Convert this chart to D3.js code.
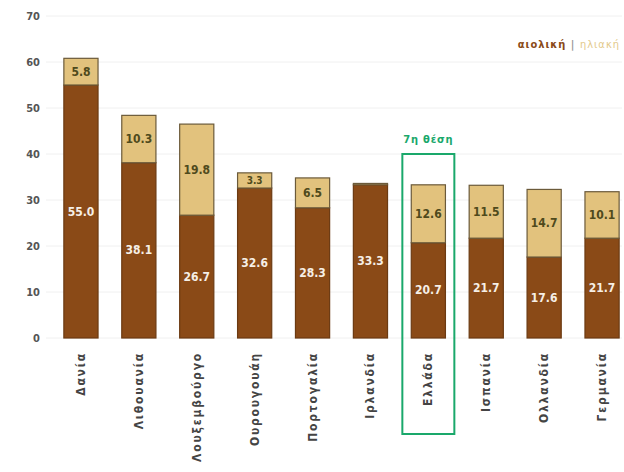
<!DOCTYPE html>
<html><head><meta charset="utf-8">
<script src="https://cdn.jsdelivr.net/npm/d3@7"></script>
<style>body{margin:0;background:#fff;}svg{display:block;}</style>
</head><body>
<svg id="c" width="624" height="472"></svg>
<script>
const categories = ["Δανία","Λιθουανία","Λουξεμβούργο","Ουρουγουάη","Πορτογαλία","Ιρλανδία","Ελλάδα","Ισπανία","Ολλανδία","Γερμανία"];
const wind  = [55.0, 38.1, 26.7, 32.6, 28.3, 33.3, 20.7, 21.7, 17.6, 21.7];
const solar = [5.8, 10.3, 19.8, 3.3, 6.5, 0.3, 12.6, 11.5, 14.7, 10.1];
const yTicks = [0,10,20,30,40,50,60,70];
const seriesNames = ["αιολική","ηλιακή"];
const highlight = "Ελλάδα";
const highlightLabel = "7η θέση";

const svg = d3.select("#c");
const font = "'DejaVu Sans Condensed','DejaVu Sans',Arial,sans-serif";
const x = d3.scaleBand().domain(categories).range([52, 631]).paddingInner(0.41).paddingOuter(0.205);
const y = d3.scaleLinear().domain([0,70]).range([338, 16]);
const cWind = "#8a4a17", cSolar = "#e2c27d";

// gridlines
svg.append("g").selectAll("line").data(yTicks).join("line")
  .attr("x1", 46).attr("x2", 622)
  .attr("y1", d => y(d)).attr("y2", d => y(d))
  .attr("stroke", "#f0f0f0").attr("stroke-width", 1);

// y axis labels
const yAxis = d3.axisLeft(y).tickValues(yTicks).tickSize(0).tickPadding(0);
const ga = svg.append("g").attr("transform", "translate(40,0)").call(yAxis);
ga.select(".domain").remove();
ga.selectAll("text").attr("font-family", font).attr("font-weight", "bold").attr("font-size", 11).attr("fill", "#555");

// bars
const data = categories.map((c,i) => ({c, w: wind[i], s: solar[i]}));
const g = svg.append("g");
g.selectAll("rect.w").data(data).join("rect")
  .attr("x", d => x(d.c)).attr("width", x.bandwidth())
  .attr("y", d => y(d.w)).attr("height", d => y(0) - y(d.w))
  .attr("fill", cWind).attr("stroke", "#6b3a12").attr("stroke-width", 1.2);
g.selectAll("rect.s").data(data).join("rect")
  .attr("x", d => x(d.c)).attr("width", x.bandwidth())
  .attr("y", d => y(d.w + d.s)).attr("height", d => y(d.w) - y(d.w + d.s))
  .attr("fill", cSolar).attr("stroke", "#6b5a3a").attr("stroke-width", 1.2);

// labels
g.selectAll("text.w").data(data).join("text")
  .attr("x", d => x(d.c) + x.bandwidth()/2)
  .attr("y", d => y(d.w/2) + 4)
  .attr("text-anchor", "middle").attr("font-family", font).attr("font-weight", "bold")
  .attr("font-size", 12).attr("fill", "#f6efe6")
  .text(d => d.w.toFixed(1));
g.selectAll("text.s").data(data.filter(d => d.s >= 1)).join("text")
  .attr("x", d => x(d.c) + x.bandwidth()/2)
  .attr("y", d => y(d.w + d.s/2) + 4)
  .attr("text-anchor", "middle").attr("font-family", font).attr("font-weight", "bold")
  .attr("font-size", d => d.s < 5 ? 10 : 12).attr("fill", "#4f4a1c")
  .text(d => d.s.toFixed(1));

// x labels
svg.append("g").selectAll("text").data(categories).join("text")
  .attr("transform", d => `translate(${x(d) + x.bandwidth()/2 + 4},352) rotate(-90)`)
  .attr("text-anchor", "end").attr("font-family", font).attr("font-weight", "bold")
  .attr("font-size", 12).attr("letter-spacing", 1.8).attr("fill", "#444")
  .text(d => d);

// highlight box
const hx = x(highlight) + x.bandwidth()/2;
svg.append("rect").attr("x", hx - 26).attr("y", 154).attr("width", 52).attr("height", 280)
  .attr("fill", "none").attr("stroke", "#1aa86b").attr("stroke-width", 2);
svg.append("text").attr("x", hx).attr("y", 143).attr("text-anchor", "middle")
  .attr("font-family", font).attr("font-weight", "bold").attr("font-size", 11)
  .attr("letter-spacing", 0.8).attr("fill", "#1aa86b").text(highlightLabel);

// legend
const leg = svg.append("text").attr("x", 620).attr("y", 48).attr("text-anchor", "end")
  .attr("font-family", font).attr("font-weight", "bold").attr("font-size", 11).attr("letter-spacing", 1);
leg.append("tspan").attr("fill", cWind).text(seriesNames[0]);
leg.append("tspan").attr("fill", "#999").text(" | ");
leg.append("tspan").attr("fill", "#e3c98a").attr("font-weight", "normal").text(seriesNames[1]);
</script>
</body></html>
